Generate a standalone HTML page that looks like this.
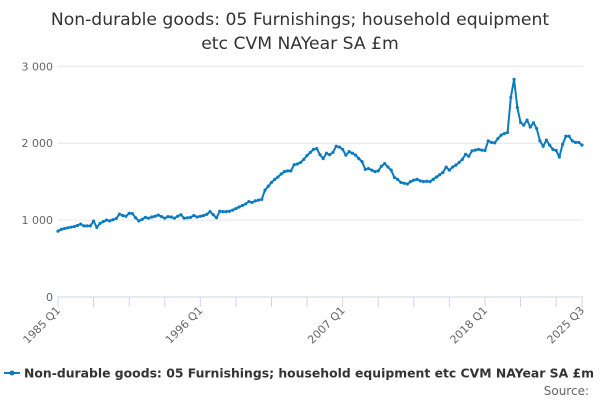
<!DOCTYPE html>
<html><head><meta charset="utf-8"><style>
body{margin:0;width:600px;height:400px;background:#fff;font-family:"DejaVu Sans","Liberation Sans",sans-serif;overflow:hidden}
svg text{font-family:"DejaVu Sans","Liberation Sans",sans-serif}
</style></head><body>
<svg id="chart" width="600" height="400" xmlns="http://www.w3.org/2000/svg">
<text x="300" y="25" text-anchor="middle" font-size="17.2" fill="#333">Non-durable goods: 05 Furnishings; household equipment</text>
<text x="300" y="49" text-anchor="middle" font-size="17.2" fill="#333">etc CVM NAYear SA £m</text>
<g id="grid"></g>
<g id="xaxis"></g>
<g id="series"></g>
<g>
<line x1="4" y1="373" x2="20" y2="373" stroke="#0b7bc1" stroke-width="2"/>
<circle cx="12" cy="373" r="2.5" fill="#0b7bc1"/>
<text x="24" y="377.5" font-size="12" font-weight="bold" fill="#333" textLength="570" lengthAdjust="spacingAndGlyphs">Non-durable goods: 05 Furnishings; household equipment etc CVM NAYear SA £m</text>
</g>
<text x="589" y="395" text-anchor="end" font-size="12" fill="#666">Source:</text>
</svg>
<script>
const yTicks=[0,1000,2000,3000];
const yTickLabels=["0","1 000","2 000","3 000"];
const xLabelIdx=[0,44,88,132,162];
const xLabels=["1985 Q1","1996 Q1","2007 Q1","2018 Q1","2025 Q3"];
const values=[
857,880,890,900, 908,915,930,948, 925,925,925,987, 905,957,980,1000,
990,1005,1020,1078, 1060,1050,1087,1085, 1030,990,1010,1035, 1025,1040,1050,1065,
1045,1025,1045,1040, 1025,1050,1070,1025, 1030,1035,1060,1040, 1050,1060,1075,1110,
1070,1030,1115,1110, 1110,1115,1130,1150, 1170,1190,1210,1240, 1230,1250,1260,1270,
1390,1440,1490,1530, 1560,1600,1630,1640, 1640,1720,1730,1750, 1790,1840,1880,1920,
1930,1850,1800,1870, 1850,1880,1960,1950, 1920,1845,1890,1870, 1845,1800,1760,1660,
1670,1650,1630,1640, 1700,1735,1690,1650, 1555,1530,1490,1480, 1470,1500,1520,1530,
1510,1500,1505,1500, 1530,1560,1590,1620, 1690,1650,1690,1715, 1750,1790,1855,1830,
1900,1910,1920,1910, 1905,2030,2010,2005, 2060,2105,2125,2140, 2595,2830,2465,2270,
2235,2300,2210,2265, 2190,2030,1960,2040, 1975,1920,1905,1820, 1985,2090,2090,2030,
2010,2010,1975];
const NS="http://www.w3.org/2000/svg";
const x0=58,x1=582,yBase=297,yPer=0.0769;
const n=values.length;
function xs(i){return x0+(x1-x0)*i/(n-1);}
function ys(v){return yBase-v*yPer;}
function mk(t,a){const e=document.createElementNS(NS,t);for(const k in a)e.setAttribute(k,a[k]);return e;}
const grid=document.getElementById('grid');
yTicks.forEach((t,k)=>{
  if(t>0){const l=mk('line',{x1:x0,x2:583,y1:ys(t),y2:ys(t),stroke:'#e6e6e6','stroke-width':1});
  
  
  grid.appendChild(l);}
  const tx=mk('text',{x:53,y:ys(t)+4,'text-anchor':'end','font-size':11,fill:'#666'});
  tx.textContent=yTickLabels[k];
  
  
  grid.appendChild(tx);
});
const xa=document.getElementById('xaxis');
const ax=mk('line',{x1:x0,x2:583,y1:yBase,y2:yBase,stroke:'#ccd6eb','stroke-width':1});


xa.appendChild(ax);
const tickIdx=[];for(let i=0;i<n;i+=11)tickIdx.push(i);tickIdx.push(n-1);
tickIdx.forEach(i=>{
  const t=mk('line',{x1:xs(i),x2:xs(i),y1:yBase,y2:yBase+10,stroke:'#ccd6eb','stroke-width':1});
  
  
  xa.appendChild(t);
});
xLabelIdx.forEach((i,k)=>{
  const x=xs(i)+3,y=yBase+14;
  const t=mk('text',{x:x,y:y,'text-anchor':'end','font-size':11,fill:'#666',transform:`rotate(-45 ${x} ${y})`});
  t.textContent=xLabels[k];
  
  
  xa.appendChild(t);
});
const s=document.getElementById('series');
const path=mk('path',{d:values.map((v,i)=>(i?'L':'M')+xs(i).toFixed(2)+' '+ys(v).toFixed(2)).join(' '),fill:'none',stroke:'#0b7bc1','stroke-width':2,'stroke-linejoin':'round'});


s.appendChild(path);
values.forEach((v,i)=>{
  const c=mk('circle',{cx:xs(i),cy:ys(v),r:1.6,fill:'#0b7bc1'});
  
  
  s.appendChild(c);
});
</script>
</body></html>
